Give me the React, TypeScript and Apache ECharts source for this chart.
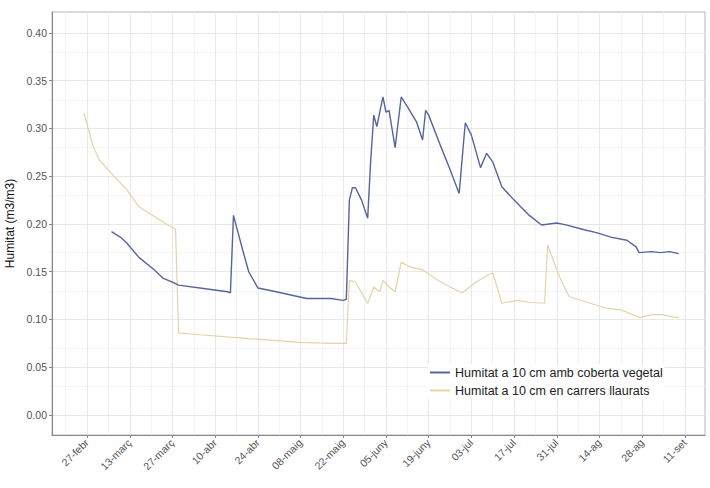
import React, { useEffect, useRef } from "react";
import * as echarts from "echarts";

// x = days since 27-febr
const tickLabels = ["27-febr", "13-març", "27-març", "10-abr", "24-abr", "08-maig", "22-maig", "05-juny", "19-juny", "03-jul", "17-jul", "31-jul", "14-ag", "28-ag", "11-set"];
const majorX = [0, 14, 28, 42, 56, 70, 84, 98, 112, 126, 140, 154, 168, 182, 196];
const minorX = [-7, 7, 21, 35, 49, 63, 77, 91, 105, 119, 133, 147, 161, 175, 189];
const majorY = [0, 0.05, 0.1, 0.15, 0.2, 0.25, 0.3, 0.35, 0.4];
const minorY = [0.025, 0.075, 0.125, 0.175, 0.225, 0.275, 0.325, 0.375];

const blueDays = [8, 11, 13, 17, 22, 25, 28, 30, 37, 46, 47, 48, 51, 53, 56, 62, 72, 80, 84, 85, 86, 87, 88, 90, 92, 93, 94, 95, 97, 98, 99, 101, 103, 105, 108, 110, 111, 112, 116, 119, 122, 124, 126, 129, 131, 133, 136, 140, 145, 149, 154, 157, 163, 167, 172, 177, 180, 181, 185, 188, 191, 194];
const blueVals = [0.192, 0.186, 0.180, 0.165, 0.152, 0.143, 0.139, 0.136, 0.133, 0.129, 0.128, 0.209, 0.173, 0.150, 0.133, 0.129, 0.122, 0.122, 0.120, 0.121, 0.225, 0.238, 0.238, 0.225, 0.206, 0.267, 0.314, 0.302, 0.333, 0.317, 0.319, 0.280, 0.333, 0.323, 0.307, 0.288, 0.319, 0.314, 0.281, 0.257, 0.232, 0.306, 0.293, 0.259, 0.274, 0.265, 0.239, 0.225, 0.209, 0.199, 0.201, 0.199, 0.194, 0.191, 0.186, 0.183, 0.176, 0.170, 0.171, 0.170, 0.171, 0.169];

const orangeDays = [-1, 2, 4, 8, 13, 17, 24, 28, 29, 30, 37, 53, 70, 80, 85, 86, 88, 90, 92, 94, 96, 97, 99, 101, 103, 106, 110, 115, 119, 123, 127, 130, 133, 136, 141, 145, 150, 151, 155, 158, 165, 170, 175, 179, 181, 185, 189, 191, 194];
const orangeVals = [0.316, 0.281, 0.267, 0.253, 0.236, 0.218, 0.204, 0.196, 0.195, 0.086, 0.084, 0.080, 0.076, 0.075, 0.075, 0.141, 0.139, 0.128, 0.117, 0.134, 0.129, 0.141, 0.134, 0.129, 0.160, 0.155, 0.152, 0.141, 0.134, 0.128, 0.138, 0.144, 0.149, 0.117, 0.120, 0.118, 0.117, 0.178, 0.144, 0.124, 0.117, 0.112, 0.110, 0.105, 0.102, 0.105, 0.105, 0.103, 0.102];

const blueName = "Humitat a 10 cm amb coberta vegetal";
const orangeName = "Humitat a 10 cm en carrers llaurats";

export default function App() {
  const ref = useRef<HTMLDivElement>(null);
  useEffect(() => {
    if (!ref.current) return;
    const chart = echarts.init(ref.current, null, { renderer: "svg" });
    const font = "'Liberation Sans', Arial, sans-serif";
    const zip = (a: number[], b: number[]) => a.map((d, i) => [d, b[i]]);
    chart.setOption({
      animation: false,
      textStyle: { fontFamily: font },
      grid: {
        left: 52, right: 5, top: 12, bottom: 53,
        outerBoundsMode: "none",
        containLabel: false,
        show: true, borderColor: "#b5b5b5", borderWidth: 1, backgroundColor: "#fff",
      },
      legend: {
        orient: "vertical",
        left: 428,
        top: 364,
        itemWidth: 20,
        itemHeight: 2,
        itemGap: 5,
        padding: [2, 2, 2, 2],
        backgroundColor: "#fff",
        icon: "rect",
        textStyle: { fontSize: 12.5, color: "#222", fontFamily: font },
        data: [blueName, orangeName],
      },
      xAxis: {
        type: "value",
        min: -11.5,
        max: 202.6,
        axisLine: { show: true, onZero: false, lineStyle: { color: "#888" } },
        axisTick: { show: true, customValues: majorX, length: 3, lineStyle: { color: "#888" } },
        axisLabel: {
          customValues: majorX,
          rotate: 45,
          fontSize: 10.5,
          color: "#555",
          margin: 6,
          formatter: (v: number) => {
            const i = majorX.indexOf(Math.round(v));
            return i >= 0 ? tickLabels[i] : "";
          },
        },
        splitLine: { show: false },
      },
      yAxis: {
        type: "value",
        min: -0.021,
        max: 0.422,
        name: "Humitat (m3/m3)",
        nameLocation: "middle",
        nameGap: 35,
        nameTextStyle: { fontSize: 12, color: "#111" },
        axisLine: { show: true, onZero: false, lineStyle: { color: "#888" } },
        axisTick: { show: true, customValues: majorY, length: 3, lineStyle: { color: "#888" } },
        axisLabel: {
          customValues: majorY,
          fontSize: 10.5,
          color: "#555",
          margin: 5,
          formatter: (v: number) => v.toFixed(2),
        },
        splitLine: { show: false },
      },
      series: [
        {
          type: "line",
          name: "grid",
          data: [],
          silent: true,
          z: 0,
          markLine: {
            silent: true,
            z: 0,
            symbol: "none",
            label: { show: false },
            animation: false,
            data: [
              ...minorX.map((x) => ({ xAxis: x, lineStyle: { color: "#f4f4f4", width: 1, type: "solid" } })),
              ...minorY.map((y) => ({ yAxis: y, lineStyle: { color: "#f4f4f4", width: 1, type: "solid" } })),
              ...majorX.map((x) => ({ xAxis: x, lineStyle: { color: "#e8e8e8", width: 1, type: "solid" } })),
              ...majorY.map((y) => ({ yAxis: y, lineStyle: { color: "#e8e8e8", width: 1, type: "solid" } })),
            ],
          },
        },
        {
          type: "line",
          name: blueName,
          data: zip(blueDays, blueVals),
          showSymbol: false,
          symbol: "none",
          color: "#55659c",
          lineStyle: { width: 1.4, color: "#55659c" },
          z: 10,
        },
        {
          type: "line",
          name: orangeName,
          data: zip(orangeDays, orangeVals),
          showSymbol: false,
          symbol: "none",
          color: "#e6d2a8",
          lineStyle: { width: 1.2, color: "#e6d2a8" },
          z: 9,
        },
      ],
    });
    return () => chart.dispose();
  }, []);
  return <div ref={ref} style={{ position: "fixed", left: 0, top: 0, width: 710, height: 488, background: "#fff" }} />;
}
